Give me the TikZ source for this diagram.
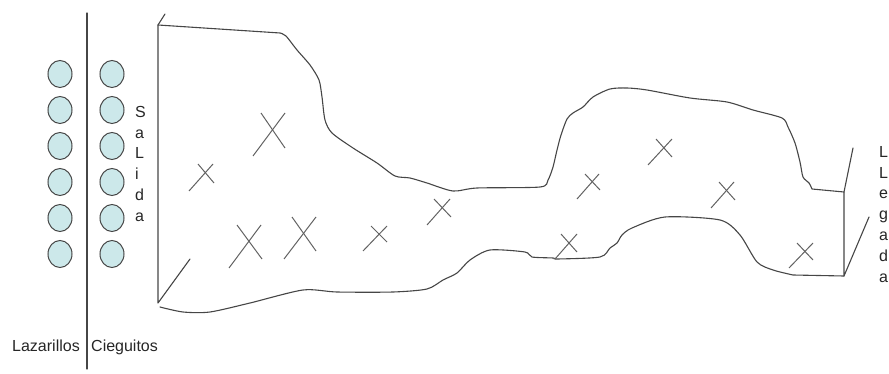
\documentclass[tikz,border=0pt]{standalone}
\usepackage{fontspec}
\setmainfont{Liberation Sans}
\usetikzlibrary{shapes.geometric}
\definecolor{guestfill}{RGB}{204,232,234}
\definecolor{ink}{RGB}{70,70,70}
\begin{document}
\begin{tikzpicture}[x=1pt,y=-1pt,
  ln/.style={draw=ink, line width=1.1pt, line join=round, line cap=round},
  xln/.style={draw=ink!85, line width=1pt},
  guest/.style={ellipse, draw=ink, line width=1pt, fill=guestfill, minimum width=24pt, minimum height=27pt, inner sep=0pt},
  lbl/.style={inner sep=0pt, text=black!85, font=\fontsize{16}{20.8}\selectfont}]
\useasboundingbox (0,0) rectangle (889,374);

% divider
\coordinate (dtop) at (87,13);
\coordinate (dbot) at (87,369);
\draw[ln] (dtop) -- (dbot);

% people
\foreach \i in {0,...,5}{
  \node[guest] (laz\i) at (60,74+36*\i) {};
  \node[guest] (cie\i) at (112,74+36*\i) {};
}

% labels
\node[lbl, anchor=base west] (lazlbl) at (12,351) {Lazarillos};
\node[lbl, anchor=base west] (cielbl) at (91,351) {Cieguitos};
\node[lbl, anchor=north west, align=left] (salida) at (135,106) {S\\a\\L\\i\\d\\a};
\node[lbl, anchor=north west, align=left] (llegada) at (879,146) {L\\L\\e\\g\\a\\d\\a};

% entrance (salida)
\draw[ln] (165,14) -- (158,25) -- (158,303) -- (190,259);

% top contour
\draw[ln] (158,25) -- (280,33)
  plot[smooth, tension=0.45] coordinates {(280,33) (286,36) (297,50) (310,65) (319,80) (322,97) (325,120) (332,133) (353,148) (377,163) (395,176) (410,178) (427,183) (453,191) (477,188) (540,187) (548,180) (553,167) (557,150) (561,135) (567,119) (573,113) (583,107) (593,97) (610,89) (627,88) (647,90) (690,98) (727,102) (753,110) (782,118) (788,127) (795,143) (800,162) (803,177) (809,183) (812,189)}
  -- (844,192);

% bottom contour
\draw[ln] plot[smooth, tension=0.45] coordinates {(160,307) (183,312) (210,312) (250,303) (303,290) (337,292) (393,292) (427,289) (443,280) (457,273) (470,260) (490,250) (525,252) (532,257) (553,258) (557,259) (600,257) (610,248) (617,243) (622,235) (632,228) (665,217) (720,220) (740,235) (757,262) (773,270) (793,275)}
  -- (844,276);

% arrival (llegada)
\draw[ln] (853,148) -- (844,192) -- (844,276) -- (869,217);

% crosses
\foreach \a/\b/\c/\d in {
  {253,156}/{285,113}/{261,113}/{285,148},
  {189,191}/{213,164}/{198,164}/{214,183},
  {229,268}/{261,225}/{237,225}/{262,259},
  {284,259}/{316,217}/{292,217}/{316,251},
  {363,251}/{387,226}/{371,226}/{387,242},
  {427,225}/{450,199}/{434,199}/{451,217},
  {577,199}/{599,174}/{585,174}/{600,190},
  {648,165}/{672,139}/{656,139}/{672,157},
  {711,208}/{734,182}/{719,182}/{735,200},
  {555,259}/{577,234}/{561,234}/{577,252},
  {789,268}/{813,243}/{797,243}/{813,260}}{
  \draw[xln] (\a) -- (\b);
  \draw[xln] (\c) -- (\d);
}
\end{tikzpicture}
\end{document}
